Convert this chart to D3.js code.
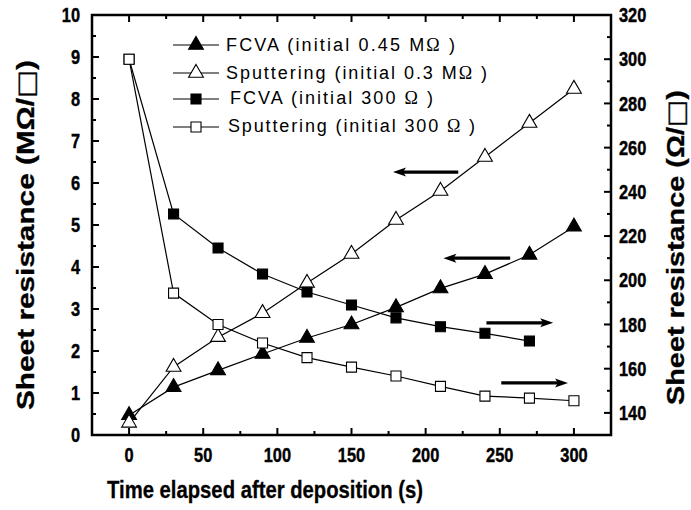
<!DOCTYPE html>
<html>
<head>
<meta charset="utf-8">
<script src="https://cdn.jsdelivr.net/npm/d3@7"></script>
<style>
  body { margin: 0; background: #fff; }
  text { font-family: "Liberation Sans", Arial, sans-serif; }
  .tick_lbl { font-weight: bold; font-size: 20px; stroke: #000; stroke-width: 0.4px; }
  .ax_title { font-weight: bold; font-size: 24px; stroke: #000; stroke-width: 0.3px; }
  .box { font-family: "DejaVu Sans", sans-serif; }
  .legend_txt { font-size: 18px; }
</style>
</head>
<body>
<div id="chart"></div>
<script>
var
    times = [0, 30, 60, 90, 120, 150, 180, 210, 240, 270, 300],
    // left axis (MOhm/sq)
    fcva_mohm = [0.47, 1.14, 1.54, 1.93, 2.31, 2.63, 3.04, 3.49, 3.83, 4.29, 4.96],
    sput_mohm = [0.29, 1.62, 2.33, 2.9, 3.62, 4.31, 5.12, 5.81, 6.62, 7.43, 8.24],
    // right axis (Ohm/sq)
    fcva_ohm = [300, 230, 214.6, 202.8, 194.7, 188.8, 183, 179, 176, 172.5],
    sput_ohm = [300, 194.2, 180, 171.6, 165, 160.7, 156.7, 152, 147.6, 146.7, 145.5],
    xTicks = [0, 50, 100, 150, 200, 250, 300],
    yLeftTicks = [0, 1, 2, 3, 4, 5, 6, 7, 8, 9, 10],
    yRightTicks = [140, 160, 180, 200, 220, 240, 260, 280, 300, 320],
    legend_labels = ['FCVA (initial 0.45 M', 'Sputtering (initial 0.3 M', 'FCVA (initial 300 ', 'Sputtering (initial 300 '],
    // arrows: [tail x, head x, y(left axis units)]
    arrows = [[222, 178, 6.26], [257, 212, 4.21], [241, 286, 2.67], [251, 296, 1.24]];

var width = 691, height = 510,
    mLeft = 92, mRight = 611, mTop = 15, mBottom = 435;

var x = d3.scaleLinear().domain([-25, 325]).range([mLeft, mRight]),
    yL = d3.scaleLinear().domain([0, 10]).range([mBottom, mTop]),
    yR = d3.scaleLinear().domain([130, 320]).range([mBottom, mTop]);

var svg = d3.select("#chart").append("svg")
    .attr("width", width)
    .attr("height", height);

	// frame ticks (inward), major + minor
	var tk = svg.append("g").attr("stroke", "#000").attr("stroke-width", 2);
	d3.range(-25, 326, 25).filter(function(v){ return v > -25 && v < 325; }).forEach(function(v) {
		var l = (v % 50 == 0) ? 7 : 4;
		tk.append("line").attr("x1", x(v)).attr("x2", x(v)).attr("y1", mBottom).attr("y2", mBottom - l);
		tk.append("line").attr("x1", x(v)).attr("x2", x(v)).attr("y1", mTop).attr("y2", mTop + l);
	});
	d3.range(0.5, 10, 0.5).forEach(function(v) {
		var l = (v % 1 == 0) ? 7 : 4;
		tk.append("line").attr("x1", mLeft).attr("x2", mLeft + l).attr("y1", yL(v)).attr("y2", yL(v));
	});
	d3.range(140, 320, 10).forEach(function(v) {
		var l = (v % 20 == 0) ? 7 : 4;
		tk.append("line").attr("x1", mRight).attr("x2", mRight - l).attr("y1", yR(v)).attr("y2", yR(v));
	});

	svg.append("rect")
	    .attr("x", mLeft).attr("y", mTop)
	    .attr("width", mRight - mLeft).attr("height", mBottom - mTop)
	    .attr("fill", "none").attr("stroke", "#000").attr("stroke-width", 2.5);

	//tick labels (condensed)
	svg.selectAll(".xlbl").data(xTicks).enter().append("text")
	    .attr("class", "tick_lbl")
	    .attr("transform", function(d) { return "translate(" + x(d) + ",462)scale(0.82,1)"; })
	    .attr("text-anchor", "middle")
	    .text(function(d) { return d; });

	svg.selectAll(".ylbl").data(yLeftTicks).enter().append("text")
	    .attr("class", "tick_lbl")
	    .attr("transform", function(d) { return "translate(80," + yL(d) + ")scale(0.82,1)"; })
	    .attr("dy", "0.36em")
	    .attr("text-anchor", "end")
	    .text(function(d) { return d; });

	svg.selectAll(".yrlbl").data(yRightTicks).enter().append("text")
	    .attr("class", "tick_lbl")
	    .attr("transform", function(d) { return "translate(619," + yR(d) + ")scale(0.82,1)"; })
	    .attr("dy", "0.36em")
	    .text(function(d) { return d; });

	// axis titles
	svg.append("text").attr("class", "ax_title")
	    .attr("x", 107).attr("y", 498)
	    .attr("textLength", 316).attr("lengthAdjust", "spacingAndGlyphs")
	    .text("Time elapsed after deposition (s)");
	var lt = svg.append("text").attr("class", "ax_title")
	    .attr("transform", "translate(34,410)rotate(-90)")
	    .attr("textLength", 350).attr("lengthAdjust", "spacingAndGlyphs")
	    .text("Sheet resistance (MΩ/");
	lt.append("tspan").attr("class", "box").text("□");
	lt.append("tspan").text(")");
	var rt = svg.append("text").attr("class", "ax_title")
	    .attr("transform", "translate(684,405)rotate(-90)")
	    .attr("textLength", 315).attr("lengthAdjust", "spacingAndGlyphs")
	    .text("Sheet resistance (Ω/");
	rt.append("tspan").attr("class", "box").text("□");
	rt.append("tspan").text(")");

	// series
	var series = [
		{ v: fcva_mohm, y: yL, sym: d3.symbolTriangle, size: 95, fill: "#000" },
		{ v: sput_mohm, y: yL, sym: d3.symbolTriangle, size: 95, fill: "#fff" },
		{ v: fcva_ohm, y: yR, sym: d3.symbolSquare, size: 100, fill: "#000" },
		{ v: sput_ohm, y: yR, sym: d3.symbolSquare, size: 100, fill: "#fff" }
	];

	series.forEach(function(s) {
		var line = d3.line()
		    .x(function(d, i) { return x(times[i]); })
		    .y(function(d) { return s.y(d); });
		svg.append("path")
		    .attr("d", line(s.v))
		    .attr("fill", "none").attr("stroke", "#000").attr("stroke-width", 1.2);
	});
	series.forEach(function(s) {
		svg.selectAll(null).data(s.v).enter().append("path")
		    .attr("d", d3.symbol().type(s.sym).size(s.size))
		    .attr("transform", function(d, i) { return "translate(" + x(times[i]) + "," + s.y(d) + ")"; })
		    .attr("fill", s.fill).attr("stroke", "#000").attr("stroke-width", 1.1);
	});

	// arrows: shaft + filled head
	var arr = svg.selectAll(".arrow").data(arrows).enter().append("g").attr("class", "arrow");
	arr.append("line")
	    .attr("x1", function(d) { return x(d[0]); })
	    .attr("x2", function(d) { var dir = d[1] > d[0] ? 1 : -1; return x(d[1]) - dir * 8; })
	    .attr("y1", function(d) { return yL(d[2]); })
	    .attr("y2", function(d) { return yL(d[2]); })
	    .attr("stroke", "#000").attr("stroke-width", 3.2);
	arr.append("path")
	    .attr("d", function(d) {
	    	var dir = d[1] > d[0] ? 1 : -1, hx = x(d[1]), hy = yL(d[2]);
	    	return "M" + hx + "," + hy + "L" + (hx - dir * 13) + "," + (hy - 4.5)
	    	    + "L" + (hx - dir * 10) + "," + hy + "L" + (hx - dir * 13) + "," + (hy + 4.5) + "Z";
	    })
	    .attr("fill", "#000");

	// legend
	var legY = [45, 73, 99, 127], legTxtY = [51, 79, 104, 132],
	    legTxtX = [226, 226, 230, 228], legLen = [229, 261, 203, 247];
	series.forEach(function(s, i) {
		var g = svg.append("g");
		g.append("line").attr("x1", 173).attr("x2", 219).attr("y1", legY[i]).attr("y2", legY[i])
		    .attr("stroke", "#000").attr("stroke-width", 1.2);
		g.append("path")
		    .attr("d", d3.symbol().type(s.sym).size(s.size))
		    .attr("transform", "translate(196," + legY[i] + ")")
		    .attr("fill", s.fill).attr("stroke", "#000").attr("stroke-width", 1.1);
		var t = g.append("text").attr("class", "legend_txt")
		    .attr("x", legTxtX[i]).attr("y", legTxtY[i])
		    .attr("textLength", legLen[i]).attr("lengthAdjust", "spacing")
		    .text(legend_labels[i]);
		t.append("tspan").style("font-family", "'Liberation Serif', serif").text("Ω");
		t.append("tspan").text(" )");
	});
</script>
</body>
</html>
